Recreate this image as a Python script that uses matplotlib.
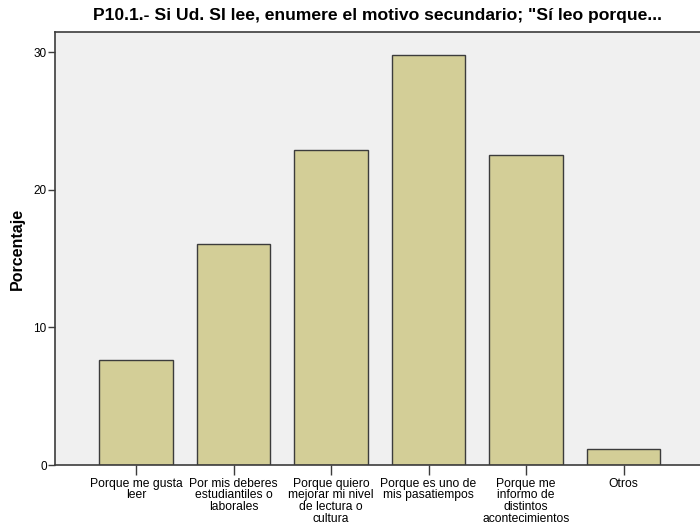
import matplotlib.pyplot as plt
import numpy as np

plt.rcParams['font.family'] = ['Liberation Sans', 'DejaVu Sans']

categories = [
    "Porque me gusta\nleer",
    "Por mis deberes\nestudiantiles o\nlaborales",
    "Porque quiero\nmejorar mi nivel\nde lectura o\ncultura",
    "Porque es uno de\nmis pasatiempos",
    "Porque me\ninformo de\ndistintos\nacontecimientos",
    "Otros",
]
porcentaje = [7.6, 16.05, 22.9, 29.8, 22.5, 1.15]
y_ticks = [0, 10, 20, 30]

fig = plt.figure(figsize=(7, 5.27), dpi=100)
ax = fig.add_axes([0.0786, 0.1176, 0.921, 0.8214])
ax.set_facecolor('#F0F0F0')

x = np.arange(len(categories))
ax.bar(x, porcentaje, width=0.755, color='#D3CE97', edgecolor='#3C3C3C', linewidth=1.0)

ax.set_xlim(-0.83, 5.78)
ax.set_ylim(0, 31.45)
ax.set_xticks(x)
ax.set_xticklabels(categories, fontsize=8.7, linespacing=0.98)
ax.set_yticks(y_ticks)
ax.tick_params(axis='y', labelsize=8.5, length=5, width=1, color='#3C3C3C', pad=1)
ax.tick_params(axis='x', length=7, width=1, color='#3C3C3C', pad=2)

for side in ['left', 'bottom', 'top']:
    ax.spines[side].set_color('#3C3C3C')
    ax.spines[side].set_linewidth(1.2)
ax.spines['right'].set_visible(False)

ax.set_ylabel("Porcentaje", fontsize=11.5, fontweight='bold', labelpad=6)
fig.text(0.5386, 0.971, "P10.1.- Si Ud. SI lee, enumere el motivo secundario; \"Sí leo porque...",
         fontsize=12.6, fontweight='bold', ha='center', va='center')

fig.savefig("out.png", dpi=100)
